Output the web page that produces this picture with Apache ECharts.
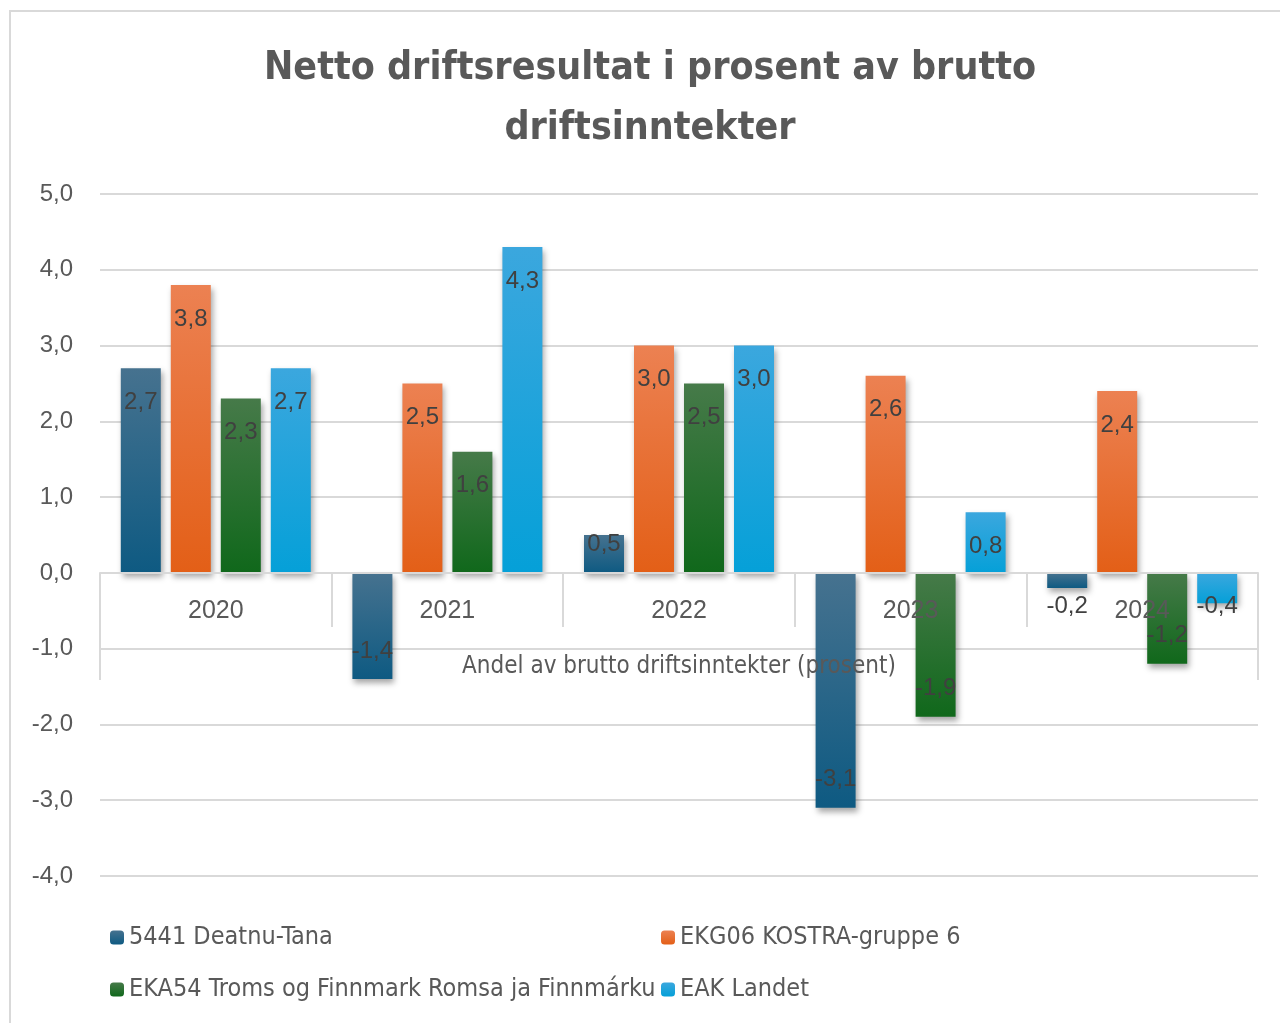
<!DOCTYPE html>
<html>
<head>
<meta charset="utf-8">
<title>Netto driftsresultat</title>
<script src="https://cdn.jsdelivr.net/npm/echarts@6/dist/echarts.min.js"></script>
<style>
  html, body { margin: 0; padding: 0; background: #fff; }
  #chart { width: 1280px; height: 1023px; }
</style>
</head>
<body>
<div id="chart"></div>
<script type="text/javascript">
  var years = ['2020', '2021', '2022', '2023', '2024'];
  var outerLabel = ['Andel av brutto driftsinntekter (prosent)'];
  var names = ['5441 Deatnu-Tana', 'EKG06 KOSTRA-gruppe 6', 'EKA54 Troms og Finnmark Romsa ja Finnmárku', 'EAK Landet'];
  var deatnu = [2.7, -1.4, 0.5, -3.1, -0.2];
  var ekg06 = [3.8, 2.5, 3.0, 2.6, 2.4];
  var eka54 = [2.3, 1.6, 2.5, -1.9, -1.2];
  var landet = [2.7, 4.3, 3.0, 0.8, -0.4];
  var yTicks = [-4, -3, -2, -1, 0, 1, 2, 3, 4, 5];

  var narrow = '"Liberation Sans Narrow", "DejaVu Sans Condensed", "Noto Sans", sans-serif';
  var plain = '"Liberation Sans", Arial, sans-serif';
  var grey = '#595959';

  var gridTop = 194, gridBottom = 147, chartH = 1023;
  var yMin = yTicks[0], yMax = yTicks[yTicks.length - 1];
  // move the category axes up from the grid bottom to the zero line
  var zeroShift = -(chartH - gridTop - gridBottom) * (0 - yMin) / (yMax - yMin);

  function fmt(v) {
    return v.toFixed(1).replace('.', ',');
  }

  function grad(top, bottom) {
    return new echarts.graphic.LinearGradient(0, 0, 0, 1, [
      { offset: 0, color: top },
      { offset: 1, color: bottom }
    ]);
  }

  // label sits inside the bar end, short bars keep it next to the zero line
  function items(values) {
    return values.map(function (v) {
      var big = Math.abs(v) >= 0.8;
      var lab;
      if (v >= 0) lab = big ? { position: 'insideTop', distance: 22 } : { position: 'insideBottom', distance: 17 };
      else lab = big ? { position: 'insideBottom', distance: 16 } : { position: 'insideTop', distance: 21 };
      return { value: v, label: lab };
    });
  }

  function bar(name, values, top, bottom) {
    return {
      name: name,
      type: 'bar',
      barWidth: 40,
      barGap: '25%',
      data: items(values),
      itemStyle: {
        color: grad(top, bottom),
        shadowColor: 'rgba(0,0,0,0.35)',
        shadowBlur: 6,
        shadowOffsetX: 2,
        shadowOffsetY: 4
      },
      label: {
        show: true,
        color: '#404040',
        fontFamily: plain,
        fontSize: 24,
        formatter: function (p) { return fmt(p.value); }
      }
    };
  }

  var legendText = { fontFamily: narrow, fontSize: 25, color: grey };

  var myChart = echarts.init(document.getElementById('chart'));
  var option = {
    backgroundColor: '#fff',
    animation: false,
    graphic: [{
      type: 'rect',
      shape: { x: 10, y: 11, width: 1400, height: 1200 },
      style: { fill: 'none', stroke: '#d9d9d9', lineWidth: 2 },
      silent: true
    }],
    title: {
      text: 'Netto driftsresultat i prosent av brutto\ndriftsinntekter',
      left: 650,
      top: 39,
      padding: 0,
      textAlign: 'center',
      textStyle: {
        fontFamily: narrow,
        fontWeight: 'bold',
        fontSize: 39,
        lineHeight: 60,
        color: grey
      }
    },
    legend: [{
      data: [names[0], names[2]],
      orient: 'vertical',
      left: 110,
      top: 925,
      padding: 0,
      itemGap: 27,
      itemWidth: 14,
      itemHeight: 14,
      textStyle: legendText
    }, {
      data: [names[1], names[3]],
      orient: 'vertical',
      left: 661,
      top: 925,
      padding: 0,
      itemGap: 27,
      itemWidth: 14,
      itemHeight: 14,
      textStyle: legendText
    }],
    grid: {
      left: 100,
      right: 22,
      top: gridTop,
      bottom: gridBottom
    },
    xAxis: [{
      type: 'category',
      data: years,
      position: 'bottom',
      offset: zeroShift,
      z: 5,
      axisLine: { onZero: false, lineStyle: { color: '#d9d9d9', width: 2 } },
      axisTick: { show: true, length: 54, lineStyle: { color: '#d9d9d9', width: 2 } },
      axisLabel: { margin: 26, fontFamily: plain, fontSize: 25, color: grey }
    }, {
      type: 'category',
      data: outerLabel,
      position: 'bottom',
      offset: zeroShift,
      z: 5,
      axisLine: { show: false, onZero: false },
      axisTick: { show: true, length: 107, lineStyle: { color: '#d9d9d9', width: 2 } },
      axisLabel: { margin: 82, fontFamily: narrow, fontSize: 24, color: grey }
    }],
    yAxis: {
      type: 'value',
      min: yMin,
      max: yMax,
      interval: 1,
      axisLine: { show: false },
      axisTick: { show: false },
      splitLine: { lineStyle: { color: '#d9d9d9', width: 2 } },
      axisLabel: {
        margin: 27,
        fontFamily: plain,
        fontSize: 24,
        color: grey,
        formatter: function (v) { return fmt(v); }
      }
    },
    series: [
      bar(names[0], deatnu, '#46728f', '#0e5a82'),
      bar(names[1], ekg06, '#ec8152', '#e35f17'),
      bar(names[2], eka54, '#467a49', '#10681b'),
      bar(names[3], landet, '#3ba7de', '#05a0d8')
    ]
  };
  myChart.setOption(option);
</script>
</body>
</html>
